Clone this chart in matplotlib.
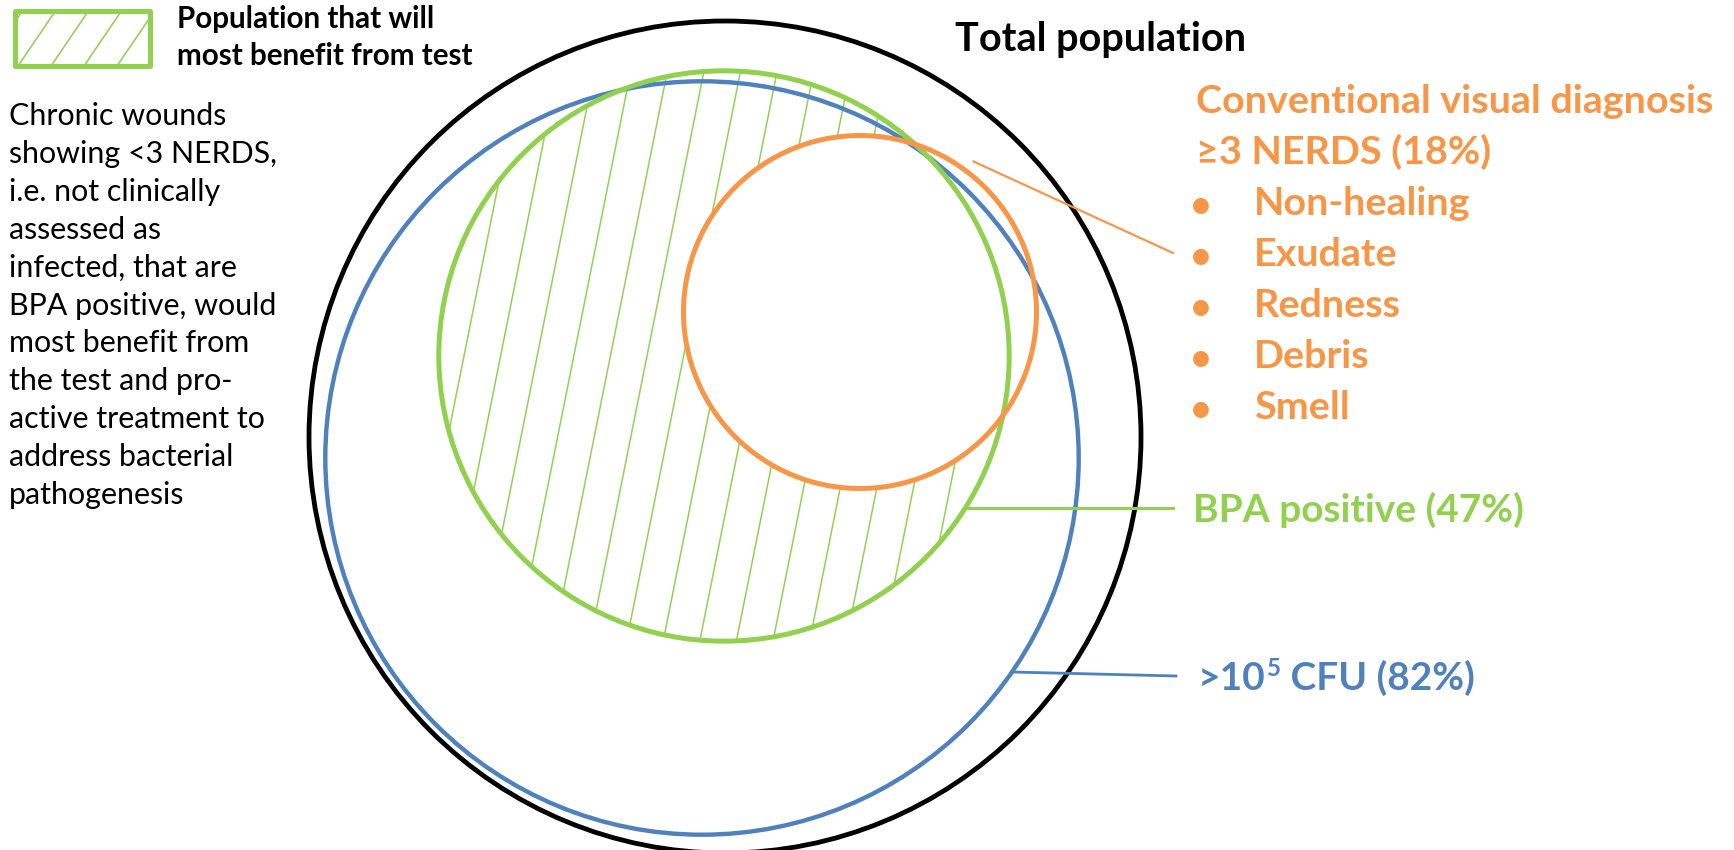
import numpy as np
import matplotlib
matplotlib.use("Agg")
import matplotlib.pyplot as plt
from matplotlib.patches import Circle, Rectangle

# ---- data -------------------------------------------------------------
share_total = 1.00
share_cfu = 0.82
share_bpa = 0.47
share_nerds = 0.18

nerds_signs = ["Non-healing", "Exudate", "Redness", "Debris", "Smell"]
legend_lines = ["Population that will", "most benefit from test"]
note_lines = [
    "Chronic wounds",
    "showing <3 NERDS,",
    "i.e. not clinically",
    "assessed as",
    "infected, that are",
    "BPA positive, would",
    "most benefit from",
    "the test and pro-",
    "active treatment to",
    "address bacterial",
    "pathogenesis",
]

# ---- style ------------------------------------------------------------
BLACK = "#000000"
BLUE = "#4F81BD"
GREEN = "#92D050"
ORANGE = "#F79646"
FONT = ["Lato", "DejaVu Sans"]
PX = 0.72  # points per pixel at 100 dpi

W, H = 1734, 850
fig = plt.figure(figsize=(W / 100, H / 100), dpi=100)
ax = fig.add_axes([0, 0, 1, 1])
ax.set_xlim(0, W)
ax.set_ylim(H, 0)
ax.axis("off")
renderer = fig.canvas.get_renderer()


def text_width(s, size, weight="normal"):
    t = ax.text(0, 0, s, fontsize=size, fontweight=weight, family=FONT)
    w = t.get_window_extent(renderer).width
    t.remove()
    return w


def fit_size(s, width, weight="normal"):
    return 40 * width / text_width(s, 40, weight)


# ---- circles (area proportional to share of the population) ----------
R_TOTAL = 416


def radius(share):
    return R_TOTAL * np.sqrt(share / share_total)


c_total = (725, 437)
c_cfu = (702, 458)
c_bpa = (724, 356)
c_nerds = (860, 312)

r_total = radius(share_total)
r_cfu = radius(share_cfu)
r_bpa = radius(share_bpa)
r_nerds = radius(share_nerds)

# hatching of the BPA-positive area outside the NERDS circle
bpa_clip = Circle(c_bpa, r_bpa, transform=ax.transData)
hatch_dx = 0.2          # horizontal drift per pixel of height
hatch_step = 36.6
ys = np.array([c_bpa[1] - r_bpa - 10, c_bpa[1] + r_bpa + 10])
for x0 in 704 + hatch_step * np.arange(-12, 13):
    xs = x0 + hatch_dx * (620 - ys)
    ln, = ax.plot(xs, ys, color=GREEN, lw=1.5 * PX, zorder=1,
                  solid_capstyle="butt")
    ln.set_clip_path(bpa_clip)

ax.add_patch(Circle(c_nerds, r_nerds, fc="white", ec="none", zorder=2))

ax.add_patch(Circle(c_total, r_total, fill=False, ec=BLACK, lw=4.8 * PX, zorder=3))
ax.add_patch(Circle(c_cfu, r_cfu, fill=False, ec=BLUE, lw=4.4 * PX, zorder=3))
ax.add_patch(Circle(c_bpa, r_bpa, fill=False, ec=GREEN, lw=5.0 * PX, zorder=4))
ax.add_patch(Circle(c_nerds, r_nerds, fill=False, ec=ORANGE, lw=5.0 * PX, zorder=5))

# ---- leader lines -----------------------------------------------------
LABEL_X = 1173


def right_edge_x(center, r, y):
    return center[0] + np.sqrt(r ** 2 - (y - center[1]) ** 2)


ang = np.deg2rad(-53)
sx = c_nerds[0] + (r_nerds + 12) * np.cos(ang)
sy = c_nerds[1] + (r_nerds + 12) * np.sin(ang)
ax.plot([sx, LABEL_X], [sy, 253], color=ORANGE, lw=2.2 * PX, zorder=6)

ax.plot([right_edge_x(c_bpa, r_bpa, 508), LABEL_X], [508, 508],
        color=GREEN, lw=3.0 * PX, zorder=6)
ax.plot([right_edge_x(c_cfu, r_cfu, 672), LABEL_X + 3], [672, 676],
        color=BLUE, lw=2.8 * PX, zorder=6)

# ---- labels -----------------------------------------------------------
size_total = fit_size("Total population", 291, "bold")
ax.text(955, 51, "Total population", fontsize=size_total, fontweight="bold",
        family=FONT, color=BLACK, va="baseline")

title_nerds = "Conventional visual diagnosis"
size_nerds = fit_size(title_nerds, 517, "bold")
nerds_lines = [title_nerds, f"\u22653 NERDS ({share_nerds:.0%})"]
for i, s in enumerate(nerds_lines):
    ax.text(1196, 113 + 51 * i, s, fontsize=size_nerds, fontweight="bold",
            family=FONT, color=ORANGE, va="baseline")
for i, s in enumerate(nerds_signs):
    y = 113 + 51 * (i + 2)
    ax.text(1201, y - 10, "\u25CF", fontsize=size_nerds * 0.52,
            family=["DejaVu Sans"], color=ORANGE, ha="center", va="center")
    ax.text(1254, y, s, fontsize=size_nerds, fontweight="bold",
            family=FONT, color=ORANGE, va="baseline")

bpa_label = f"BPA positive ({share_bpa:.0%})"
size_bpa = fit_size(bpa_label, 330, "bold")
ax.text(1193, 522, bpa_label, fontsize=size_bpa, fontweight="bold",
        family=FONT, color=GREEN, va="baseline")

# >10^5 CFU label built from pieces so the exponent sits raised
x = 1198
y = 690
t = ax.text(x, y, ">10", fontsize=size_bpa, fontweight="bold", family=FONT,
            color=BLUE, va="baseline")
x += t.get_window_extent(renderer).width + 1
t = ax.text(x, y - size_bpa / PX * 0.36, "5", fontsize=size_bpa * 0.62,
            fontweight="bold", family=FONT, color=BLUE, va="baseline")
x += t.get_window_extent(renderer).width
ax.text(x, y, f" CFU ({share_cfu:.0%})", fontsize=size_bpa, fontweight="bold",
        family=FONT, color=BLUE, va="baseline")

# ---- legend -----------------------------------------------------------
box = Rectangle((15, 11), 135, 55, fill=False, ec=GREEN, lw=5 * PX,
                joinstyle="round", zorder=3)
ax.add_patch(box)
box_clip = Rectangle((15, 11), 135, 55, transform=ax.transData)
for x0 in 18 + 33 * np.arange(-1, 5):
    ln, = ax.plot([x0, x0 + 0.68 * 55], [66, 11], color=GREEN, lw=1.6 * PX,
                  zorder=2)
    ln.set_clip_path(box_clip)

size_leg = fit_size(legend_lines[1], 296, "bold")
for i, s in enumerate(legend_lines):
    ax.text(177, 28 + 37 * i, s, fontsize=size_leg, fontweight="bold",
            family=FONT, color=BLACK, va="baseline")

size_note = fit_size("BPA positive, would", 268)
for i, s in enumerate(note_lines):
    ax.text(9, 125 + 37.9 * i, s, fontsize=size_note, family=FONT,
            color=BLACK, va="baseline")

fig.savefig("out.png", dpi=100, facecolor="white")
